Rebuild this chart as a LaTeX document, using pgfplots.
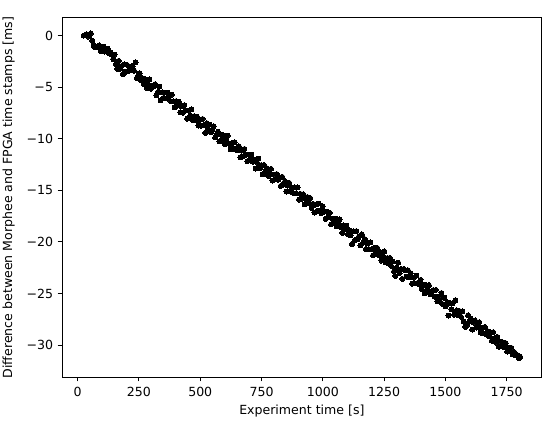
\documentclass[border=0pt]{standalone}
\usepackage{fontspec}
\setmainfont{DejaVu Sans}
\usepackage{pgfplots}
\usepackage{pgfplotstable}
\pgfplotsset{compat=1.18}

% time offset samples: experiment time [s], difference [ms]
\pgfplotstableread{
x y
25 0.02
30.7 0.08
36.4 0.15
42.1 -0.08
47.8 0.01
53.5 0.23
59.2 -0.48
64.9 -0.95
70.6 -1.11
76.3 -1.08
82 -1.07
87.7 -0.94
93.4 -1.47
99.1 -1.20
104.8 -1.07
110.5 -1.53
116.2 -1.37
121.9 -1.24
127.6 -1.71
133.3 -1.61
139 -1.80
144.7 -2.26
150.4 -1.84
156.1 -2.76
161.8 -3.21
167.5 -2.43
173.2 -3.19
178.9 -2.93
184.6 -3.71
190.3 -2.77
196 -3.49
201.7 -2.83
207.4 -3.40
213.1 -3.37
218.8 -2.98
224.5 -2.97
230.2 -3.39
235.9 -2.58
241.6 -4.09
247.3 -3.82
253 -3.64
258.7 -4.32
264.4 -4.13
270.1 -4.70
275.8 -4.24
281.5 -5.05
287.2 -4.70
292.9 -4.24
298.6 -5.14
304.3 -4.87
310 -4.93
315.7 -4.70
321.4 -5.77
327.1 -5.46
332.8 -4.95
338.5 -6.28
344.2 -5.50
349.9 -6.03
355.6 -5.51
361.3 -6.06
367 -5.51
372.7 -5.90
378.4 -6.33
384.1 -5.71
389.8 -6.37
395.5 -6.93
401.2 -6.34
406.9 -6.77
412.6 -6.40
418.3 -7.42
424 -6.84
429.7 -7.46
435.4 -6.73
441.1 -7.23
446.8 -8.05
452.5 -7.27
458.2 -7.76
463.9 -7.15
469.6 -8.19
475.3 -7.80
481 -8.20
486.7 -7.84
492.4 -8.72
498.1 -8.17
503.8 -8.73
509.5 -8.07
515.2 -8.67
520.9 -9.42
526.6 -8.47
532.3 -9.03
538 -8.61
543.7 -9.36
549.4 -9.13
555.1 -8.78
560.8 -9.86
566.5 -9.63
572.2 -9.31
577.9 -10.25
583.6 -9.60
589.3 -10.13
595 -9.67
600.7 -10.52
606.4 -10.07
612.1 -9.68
617.8 -10.47
623.5 -11.02
629.2 -10.40
634.9 -10.96
640.6 -10.33
646.3 -11.06
652 -11.10
657.7 -10.71
663.4 -11.79
669.1 -11.14
674.8 -11.69
680.5 -10.98
686.2 -11.53
691.9 -12.16
697.6 -11.54
703.3 -12.10
709 -11.54
714.7 -12.23
720.4 -12.01
726.1 -12.89
731.8 -12.30
737.5 -11.91
743.2 -12.86
748.9 -12.54
754.6 -13.45
760.3 -12.54
766 -13.16
771.7 -12.84
777.4 -13.59
783.1 -13.23
788.8 -12.91
794.5 -14.05
800.2 -13.47
805.9 -13.93
811.6 -13.41
817.3 -13.97
823 -13.80
828.7 -14.56
834.4 -13.68
840.1 -14.43
845.8 -14.11
851.5 -15.12
857.2 -14.53
862.9 -14.27
868.6 -15.13
874.3 -14.77
880 -15.26
885.7 -14.71
891.4 -15.27
897.1 -14.71
902.8 -15.89
908.5 -15.34
914.2 -15.80
919.9 -15.37
925.6 -16.35
931.3 -15.83
937 -15.64
942.7 -16.23
948.4 -15.74
954.1 -16.69
959.8 -16.30
965.5 -17.15
971.2 -16.37
976.9 -16.99
982.6 -16.28
988.3 -16.97
994 -17.20
999.7 -16.55
1005.4 -17.07
1011.1 -17.76
1016.8 -17.07
1022.5 -17.60
1028.2 -17.18
1033.9 -18.29
1039.6 -17.73
1045.3 -18.16
1051 -17.74
1056.7 -18.49
1062.4 -18.13
1068.1 -17.81
1073.8 -18.56
1079.5 -19.12
1085.2 -18.40
1090.9 -18.77
1096.6 -18.41
1102.3 -19.23
1108 -18.87
1113.7 -19.36
1119.4 -20.20
1125.1 -18.97
1130.8 -19.86
1136.5 -18.95
1142.2 -19.73
1147.9 -19.44
1153.6 -20.32
1159.3 -19.25
1165 -20.07
1170.7 -19.71
1176.4 -20.69
1182.1 -20.14
1187.8 -20.69
1193.5 -20.04
1199.2 -20.73
1204.9 -21.29
1210.6 -20.57
1216.3 -21.10
1222 -20.58
1227.7 -21.26
1233.4 -20.97
1239.1 -21.82
1244.8 -21.33
1250.5 -20.91
1256.2 -21.99
1261.9 -21.57
1267.6 -22.06
1273.3 -21.54
1279 -22.33
1284.7 -21.90
1290.4 -22.85
1296.1 -23.30
1301.8 -22.50
1307.5 -22.01
1313.2 -23.02
1318.9 -22.63
1324.6 -23.58
1330.3 -22.61
1336 -22.77
1341.7 -23.36
1347.4 -22.74
1353.1 -23.43
1358.8 -23.04
1364.5 -24.05
1370.2 -23.47
1375.9 -24.03
1381.6 -23.28
1387.3 -23.97
1393 -24.13
1398.7 -23.68
1404.4 -24.59
1410.1 -24.14
1415.8 -24.99
1421.5 -24.21
1427.2 -24.67
1432.9 -24.18
1438.6 -25.06
1444.3 -24.77
1450 -24.67
1455.7 -25.30
1461.4 -24.65
1467.1 -25.76
1472.8 -25.30
1478.5 -25.79
1484.2 -24.95
1489.9 -26.03
1495.6 -25.41
1501.3 -26.26
1507 -25.87
1512.7 -27.15
1518.4 -25.91
1524.1 -26.53
1529.8 -25.94
1535.5 -27.05
1541.2 -25.65
1546.9 -26.63
1552.6 -27.13
1558.3 -26.70
1564 -27.26
1569.7 -26.74
1575.4 -27.72
1581.1 -28.25
1586.8 -28.12
1592.5 -27.11
1598.2 -27.73
1603.9 -27.44
1609.6 -28.50
1615.3 -27.83
1621 -27.61
1626.7 -28.30
1632.4 -28.13
1638.1 -27.78
1643.8 -28.79
1649.5 -28.34
1655.2 -28.86
1660.9 -28.24
1666.6 -28.93
1672.3 -28.64
1678 -29.13
1683.7 -28.77
1689.4 -29.59
1695.1 -28.75
1700.8 -29.33
1706.5 -29.76
1712.2 -29.21
1717.9 -30.16
1723.6 -29.67
1729.3 -30.10
1735 -29.74
1740.7 -30.23
1746.4 -29.81
1752.1 -30.63
1757.8 -30.24
1763.5 -30.57
1769.2 -30.27
1774.9 -30.90
1780.6 -30.67
1786.3 -31.00
1792 -30.95
1795 -31.05
1797.7 -31.22
1800.5 -31.30
1803.4 -31.10
1805 -31.15
}\offsets

\begin{document}
\begin{tikzpicture}
\path[use as bounding box] (0,0) rectangle (550bp,422bp);
\begin{axis}[
  at={(62bp,45bp)}, anchor=south west,
  scale only axis, width=479.7bp, height=359bp,
  xmin=-64, xmax=1893, ymin=-33.1, ymax=1.72,
  font=\fontsize{12.6}{15}\selectfont,
  axis line style={line width=1bp, black},
  tick pos=left, tick align=outside,
  major tick length=4.4bp,
  every tick/.style={line width=1bp, black},
  xtick={0,250,500,750,1000,1250,1500,1750},
  xticklabels={0,250,500,750,1000,1250,1500,1750},
  ytick={-30,-25,-20,-15,-10,-5,0},
  yticklabels={−30,−25,−20,−15,−10,−5,0},
  xticklabel style={anchor=base, inner sep=0pt, yshift=-15bp},
  yticklabel style={anchor=east, inner sep=0pt, xshift=-4.4bp},
  xlabel={Experiment time [s]},
  ylabel={Difference between Morphee and FPGA time stamps [ms]},
  xlabel style={at={(axis description cs:0.5,-0.1031)}, anchor=base, inner sep=0pt},
  ylabel style={at={(axis description cs:-0.1042,0.5)}, anchor=base, inner sep=0pt},
]
\addplot[only marks, mark=*, mark size=2.5bp, black, mark options={line width=0pt}]
  table[x=x, y=y] {\offsets};
\end{axis}
\end{tikzpicture}
\end{document}
